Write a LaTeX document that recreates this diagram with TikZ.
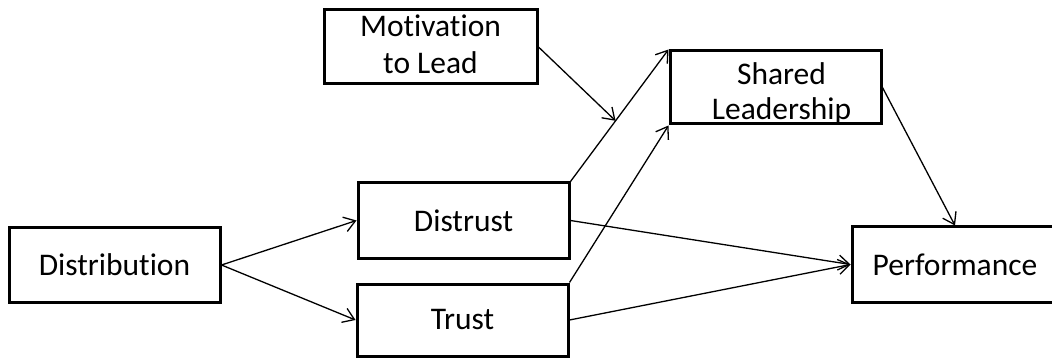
\documentclass[tikz,border=0pt]{standalone}
\usepackage{fontspec}
\setmainfont{Carlito}[Ligatures={NoCommon}]
\usetikzlibrary{arrows.meta,calc}
\begin{document}
\begin{tikzpicture}[x=1pt,y=-1pt,
  box/.style={draw, rectangle, line width=3pt, inner sep=0pt, align=center,
    font=\fontsize{31.5}{37}\selectfont},
  link/.style={line width=1.3pt, -{Straight Barb[length=11pt,width=15pt,line width=1.3pt]}}]
  \useasboundingbox (0,0) rectangle (1052,358);
  \clip (0,0) rectangle (1052,358);

  % factor boxes
  \node[box, minimum width=213pt, minimum height=74pt] (mot) at (430.5,47) {Motivation\\to Lead\vspace*{6pt}};
  \node[box, minimum width=211pt, minimum height=73pt] (shared) at (775.5,87.5) {\hspace*{12pt}Shared\\[-2pt]\hspace*{12pt}Leadership\vspace*{-12pt}};
  \node[box, minimum width=211pt, minimum height=75pt] (distrust) at (463.5,220.5) {Distrust};
  \node[box, minimum width=211pt, minimum height=74pt] (distribution) at (114.5,265) {Distribution};
  \node[box, minimum width=211pt, minimum height=72pt] (trust) at (462.5,320) {\raisebox{-3pt}{Trust}};
  \node[box, minimum width=206pt, minimum height=75pt] (perf) at (955,264.5) {\raisebox{-4pt}{Performance}};

  % moderation point on the distrust path
  \coordinate (mod) at ($(distrust.north east)!0.46!(shared.north west)$);

  % paths
  \draw[link] (distribution.east) -- (distrust.west);
  \draw[link] (distribution.east) -- (trust.west);
  \draw[link] (distrust.north east) -- (shared.north west);
  \draw[link] (trust.north east) -- (shared.south west);
  \draw[link] (mot.east) -- (mod);
  \draw[link] (shared.east) -- (perf.north);
  \draw[link] (distrust.east) -- (perf.west);
  \draw[link] (trust.east) -- (perf.west);
\end{tikzpicture}
\end{document}
